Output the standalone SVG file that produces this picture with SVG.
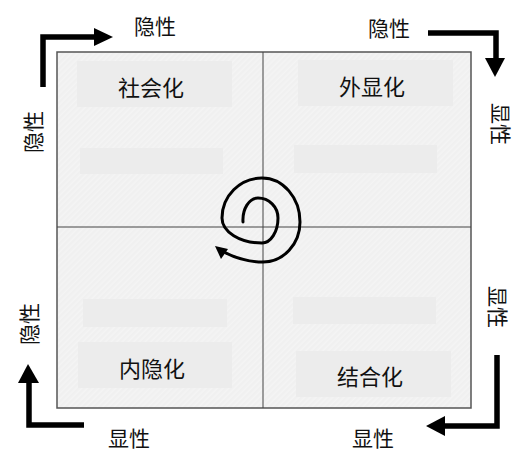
<svg xmlns="http://www.w3.org/2000/svg" width="527" height="455" viewBox="0 0 527 455">
<defs>
<pattern id="tex" width="4" height="4" patternUnits="userSpaceOnUse" patternTransform="rotate(45)">
<rect width="4" height="4" fill="#f2f2f2"/>
<line x1="0" y1="0" x2="0" y2="4" stroke="#f7f7f7" stroke-width="1"/>
<line x1="2" y1="0" x2="2" y2="4" stroke="#ececec" stroke-width="0.5"/>
</pattern>
<style>
.q{fill:url(#tex)}
.lb{fill:#ececec}
.t{font-family:"Noto Sans CJK SC","Noto Sans",sans-serif;fill:#111;text-anchor:middle;dominant-baseline:central}
.big{font-size:22px}
.sm{font-size:21px}
.arr{fill:none;stroke:#000;stroke-width:5.5}
.head{fill:#000}
</style>
</defs>
<rect width="527" height="455" fill="#fff"/>
<g id="quadrants">
<rect class="q" x="57" y="52" width="414" height="356"/>
<rect x="57" y="52" width="414" height="356" fill="none" stroke="#555" stroke-width="1.5"/>
<line x1="263" y1="52" x2="263" y2="408" stroke="#444" stroke-width="1"/>
<line x1="57" y1="227" x2="471" y2="227" stroke="#444" stroke-width="1"/>
</g>
<g id="socialization">
<rect class="lb" x="77" y="61" width="155" height="46"/>
<rect class="lb" x="80" y="148" width="143" height="26"/>
<text class="t big" x="151" y="86">社会化</text>
</g>
<g id="externalization">
<rect class="lb" x="298" y="60" width="155" height="46"/>
<rect class="lb" x="294" y="145" width="143" height="28"/>
<text class="t big" x="372" y="85">外显化</text>
</g>
<g id="internalization">
<rect class="lb" x="83" y="299" width="144" height="28"/>
<rect class="lb" x="78" y="342" width="154" height="46"/>
<text class="t big" x="152" y="367">内隐化</text>
</g>
<g id="combination">
<rect class="lb" x="293" y="297" width="143" height="27"/>
<rect class="lb" x="296" y="351" width="155" height="46"/>
<text class="t big" x="370" y="375">结合化</text>
</g>
<g id="connectors">
<polyline class="arr" points="43,87 43,37 96,37"/>
<polygon class="head" points="94,28 113,37 94,46"/>
<polyline class="arr" points="428,33 496,33 496,60"/>
<polygon class="head" points="485,58 505,58 495,77"/>
<polyline class="arr" points="497,355 497,426 443,426"/>
<polygon class="head" points="445,416 445,436 426,426"/>
<polyline class="arr" points="84,425 29,425 29,381"/>
<polygon class="head" points="18,383 39,383 28,364"/>
<path d="M243,222 A15,22 0 0 1 258,198 A20,20 0 0 1 278,218 A16,25 0 0 1 262,243 A40,25 0 0 1 222,218 A40,40 0 0 1 262,178 A38,44 0 0 1 300,222 A37,40 0 0 1 263,262 Q243,262 224,252" fill="none" stroke="#000" stroke-width="3" stroke-linecap="round"/>
<polygon class="head" points="215,246 228,249 221,259"/>
</g>
<g id="labels">
<text class="t sm" x="155" y="25">隐性</text>
<text class="t sm" x="389" y="27">隐性</text>
<text class="t sm" transform="translate(502,124) rotate(90)">显性</text>
<text class="t sm" transform="translate(499,307) rotate(90)">显性</text>
<text class="t sm" transform="translate(32,132) rotate(-90)">隐性</text>
<text class="t sm" transform="translate(28,324) rotate(-90)">隐性</text>
<text class="t sm" x="129" y="437">显性</text>
<text class="t sm" x="373" y="437">显性</text>
</g>
</svg>
